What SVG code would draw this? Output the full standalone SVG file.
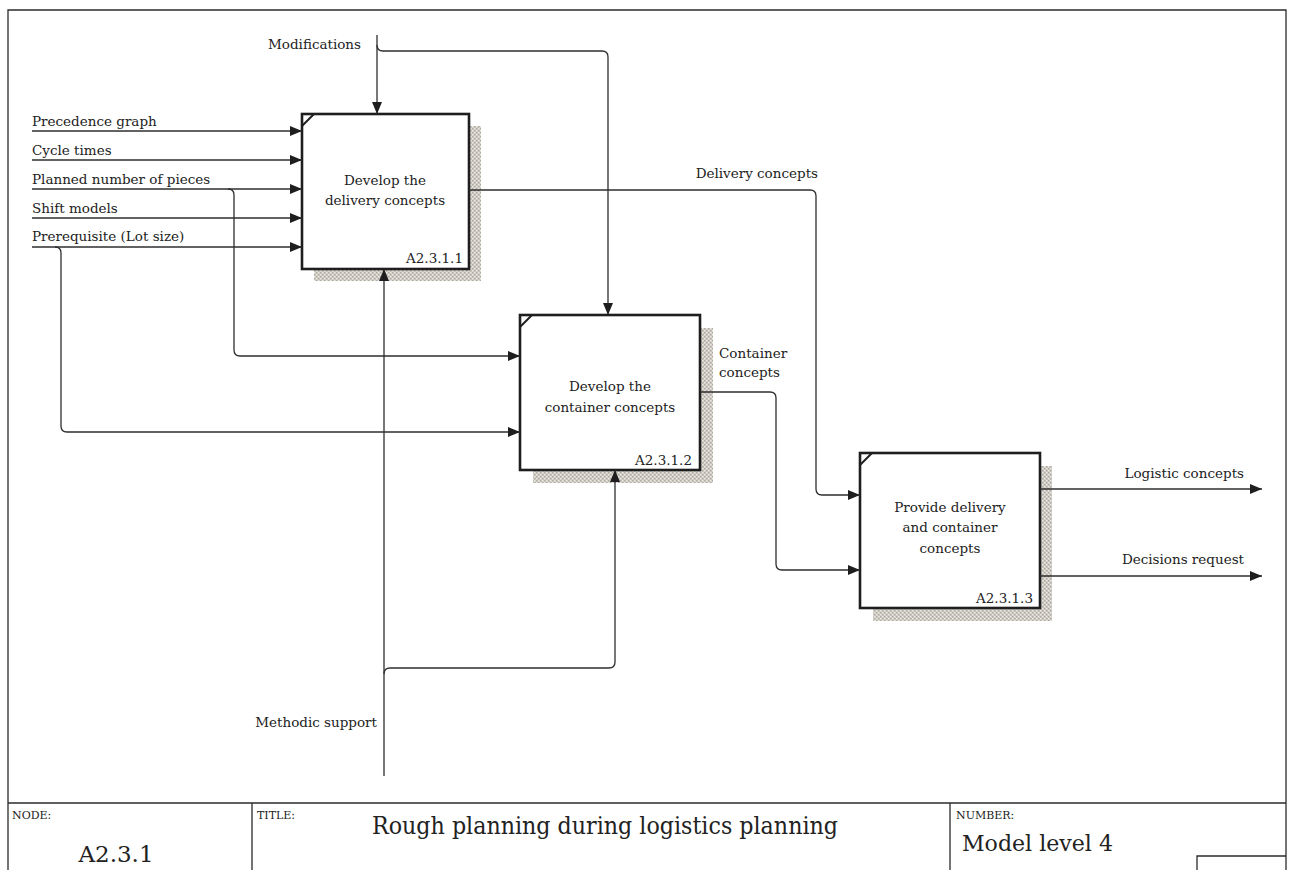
<svg xmlns="http://www.w3.org/2000/svg" width="1290" height="870" viewBox="0 0 1290 870">
  <style>
    .frame { fill: none; stroke: #2b2b2b; stroke-width: 1.3; }
    .box { fill: #ffffff; stroke: #1e1e1e; stroke-width: 2.6; }
    .shadow { fill: url(#hatch); }
    .corner { fill: none; stroke: #1e1e1e; stroke-width: 2; }
    .link { fill: none; stroke: #2e2e2e; stroke-width: 1.3; }
    .arrow { marker-end: url(#head); }
    text { font-family: "DejaVu Serif", "Liberation Serif", serif; fill: #222222; }
    .lbl { font-size: 13.5px; }
    .mid { text-anchor: middle; }
    .end { text-anchor: end; }
    .small { font-size: 11px; }
  </style>
  <defs>
    <!-- speckled grey fill used for the box shadows -->
    <pattern id="hatch" width="4" height="4" patternUnits="userSpaceOnUse">
      <rect width="4" height="4" fill="#d6d3cc"/>
      <rect x="0" y="0" width="1.5" height="1.5" fill="#aeaaa1"/>
      <rect x="2" y="2" width="1.5" height="1.5" fill="#aeaaa1"/>
      <rect x="2" y="0" width="1" height="1" fill="#eeece7"/>
      <rect x="0" y="2" width="1" height="1" fill="#eeece7"/>
    </pattern>
    <marker id="head" viewBox="0 0 12 10" markerWidth="12" markerHeight="10" refX="12" refY="5" orient="auto" markerUnits="userSpaceOnUse">
      <path d="M0,0 L12,5 L0,10 z" fill="#1e1e1e"/>
    </marker>
  </defs>

  <!-- drawing frame and title block -->
  <g id="frame">
    <path class="frame" d="M8,870 L8,10 L1286,10 L1286,870"/>
    <path class="frame" d="M8,803 L1286,803 M252,803 L252,870 M950,803 L950,870 M1197,870 L1197,856 L1286,856"/>
    <text class="small" x="12" y="819">NODE:</text>
    <text x="116" y="862" class="mid" font-size="23">A2.3.1</text>
    <text class="small" x="257" y="819">TITLE:</text>
    <text x="372" y="834" font-size="25" textLength="466" lengthAdjust="spacingAndGlyphs">Rough planning during logistics planning</text>
    <text class="small" x="956" y="819">NUMBER:</text>
    <text x="962" y="851" font-size="23" textLength="151" lengthAdjust="spacingAndGlyphs">Model level 4</text>
  </g>

  <!-- activity A2.3.1.1 -->
  <g id="node-a2311">
    <rect class="shadow" x="314" y="126" width="167" height="155"/>
    <rect class="box" x="302" y="114" width="167" height="155"/>
    <path class="corner" d="M302,126 L314,114"/>
    <text class="lbl mid" x="385" y="185">Develop the</text>
    <text class="lbl mid" x="385" y="205">delivery concepts</text>
    <text class="lbl end" x="463" y="263">A2.3.1.1</text>
  </g>

  <!-- activity A2.3.1.2 -->
  <g id="node-a2312">
    <rect class="shadow" x="533" y="328" width="180" height="155"/>
    <rect class="box" x="520" y="315" width="180" height="155"/>
    <path class="corner" d="M520,327 L532,315"/>
    <text class="lbl mid" x="610" y="391">Develop the</text>
    <text class="lbl mid" x="610" y="412">container concepts</text>
    <text class="lbl end" x="692" y="465">A2.3.1.2</text>
  </g>

  <!-- activity A2.3.1.3 -->
  <g id="node-a2313">
    <rect class="shadow" x="873" y="466" width="179" height="155"/>
    <rect class="box" x="860" y="453" width="180" height="155"/>
    <path class="corner" d="M860,465 L872,453"/>
    <text class="lbl mid" x="950" y="512">Provide delivery</text>
    <text class="lbl mid" x="950" y="532">and container</text>
    <text class="lbl mid" x="950" y="553">concepts</text>
    <text class="lbl end" x="1033" y="603">A2.3.1.3</text>
  </g>

  <!-- connectors (drawn last so they sit over the shadows) -->
  <g id="connectors">
    <path class="link arrow" d="M32,131 L302,131"/>
    <path class="link arrow" d="M32,160 L302,160"/>
    <path class="link arrow" d="M32,189 L302,189"/>
    <path class="link arrow" d="M32,218 L302,218"/>
    <path class="link arrow" d="M32,247 L302,247"/>
    <path class="link arrow" d="M228,189 Q234,189 234,195 L234,350 Q234,356 240,356 L520,356"/>
    <path class="link arrow" d="M55,247 Q61,247 61,253 L61,426 Q61,432 67,432 L520,432"/>
    <path class="link arrow" d="M377,35 L377,114"/>
    <path class="link arrow" d="M377,45 Q377,51 383,51 L602,51 Q608,51 608,57 L608,315"/>
    <path class="link arrow" d="M469,190 L810,190 Q816,190 816,196 L816,489 Q816,495 822,495 L860,495"/>
    <path class="link arrow" d="M700,392 L770,392 Q776,392 776,398 L776,564 Q776,570 782,570 L860,570"/>
    <path class="link arrow" d="M384,776 L384,269"/>
    <path class="link arrow" d="M384,674 Q384,668 390,668 L609,668 Q615,668 615,662 L615,470"/>
    <path class="link arrow" d="M1040,489 L1262,489"/>
    <path class="link arrow" d="M1040,576 L1262,576"/>

    <text class="lbl" x="32" y="126">Precedence graph</text>
    <text class="lbl" x="32" y="155">Cycle times</text>
    <text class="lbl" x="32" y="184">Planned number of pieces</text>
    <text class="lbl" x="32" y="213">Shift models</text>
    <text class="lbl" x="32" y="241">Prerequisite (Lot size)</text>
    <text class="lbl end" x="361" y="49">Modifications</text>
    <text class="lbl end" x="818" y="178">Delivery concepts</text>
    <text class="lbl" x="719" y="358">Container</text>
    <text class="lbl" x="719" y="377">concepts</text>
    <text class="lbl end" x="377" y="727">Methodic support</text>
    <text class="lbl end" x="1244" y="478">Logistic concepts</text>
    <text class="lbl end" x="1244" y="564">Decisions request</text>
  </g>
</svg>
